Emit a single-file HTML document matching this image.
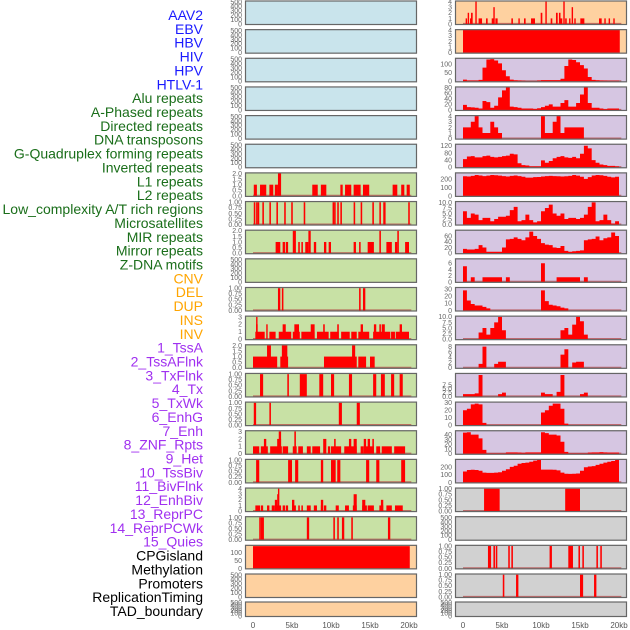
<!DOCTYPE html>
<html><head><meta charset="utf-8"><style>
html,body{margin:0;padding:0;background:#fff;width:630px;height:630px;overflow:hidden}
svg{display:block}
</style></head><body>
<svg id="chart" width="630" height="630" xmlns="http://www.w3.org/2000/svg" font-family="Liberation Sans, DejaVu Sans, sans-serif"></svg>
<script>
// ---------- data ----------
const trackLabels = ["AAV2","EBV","HBV","HIV","HPV","HTLV-1","Alu repeats","A-Phased repeats","Directed repeats","DNA transposons","G-Quadruplex forming repeats","Inverted repeats","L1 repeats","L2 repeats","Low_complexity A/T rich regions","Microsatellites","MIR repeats","Mirror repeats","Z-DNA motifs","CNV","DEL","DUP","INS","INV","1_TssA","2_TssAFlnk","3_TxFlnk","4_Tx","5_TxWk","6_EnhG","7_Enh","8_ZNF_Rpts","9_Het","10_TssBiv","11_BivFlnk","12_EnhBiv","13_ReprPC","14_ReprPCWk","15_Quies","CPGisland","Methylation","Promoters","ReplicationTiming","TAD_boundary"];
const labelGroupSizes = [6,13,5,15,5];
const kbTicks = [0,5,10,15,20];
const kbTickLabels = ["0","5kb","10kb","15kb","20kb"];

// left column segments [startKb, endKb, value]
const L6 = [[0.1,0.5,1],[0.9,1.7,1],[2.1,2.6,1],[2.8,3.2,1],[3.2,3.6,2],[7.6,8.3,1],[8.7,9.4,1],[11.2,11.5,1],[11.8,12.6,1],[12.9,13.8,1],[14.1,14.9,1],[17.9,18.5,1],[19.0,19.4,1],[19.7,20.1,1]];
const L7 = [[0.1,0.3,1],[0.4,0.6,1],[0.6,0.8,1],[1.2,1.4,1],[2.1,2.3,1],[3.0,3.2,1],[4.0,4.2,1],[4.9,5.1,1],[6.5,6.7,1],[10.2,10.4,1],[10.4,10.6,1],[10.8,11.0,1],[11.2,11.4,1],[12.9,13.1,1],[13.8,14.0,1],[15.3,15.5,1],[16.2,16.4,1],[16.7,17.0,1],[19.9,20.1,1]];
const L8 = [[2.9,3.5,1],[3.8,4.1,1],[4.2,4.5,1],[5.1,5.5,2],[5.8,6.0,1],[6.2,6.4,1],[6.7,7.1,1],[7.1,7.4,2],[7.8,8.1,1],[9.1,9.4,1],[9.7,10.0,1],[12.9,13.2,1],[13.6,13.8,1],[14.7,15.5,1],[16.2,16.4,2],[17.1,17.8,1],[18.2,18.5,1],[18.5,18.7,2],[19.5,20.0,1]];
const L10 = [[3.2,3.5,1],[3.7,3.9,1],[13.6,13.8,1],[14.1,14.4,1]];
const L11 = [[0.3,1.5,1],[2.1,2.9,1],[3.3,4.9,1],[5.1,6.0,1],[6.2,7.9,1],[8.2,9.7,1],[9.9,11.0,1],[11.3,12.4,1],[12.6,13.3,1],[13.5,14.9,1],[15.4,17.6,1],[17.7,18.2,1],[18.3,20.0,1],[0.4,0.6,2],[1.7,1.8,2],[3.8,4.2,2],[5.3,5.9,2],[7.4,7.9,2],[9.0,9.2,2],[10.8,11.0,2],[13.8,14.1,2],[15.5,15.8,2],[16.2,16.4,2],[16.5,16.9,2],[18.8,19.1,2],[0.4,0.5,3]];
const L12 = [[0.0,3.1,1],[3.5,4.5,1],[9.1,13.3,1],[13.5,14.5,1],[15.0,15.6,1],[1.8,2.3,2],[3.7,4.4,2],[12.7,13.1,2]];
const L13 = [[0.9,1.3,1],[4.4,4.6,1],[6.0,6.9,1],[8.5,9.0,1],[10.0,10.4,1],[12.3,12.7,1],[15.4,15.8,1],[16.4,16.9,1],[17.7,18.1,1],[18.8,19.2,1]];
const L14 = [[0.1,0.4,1],[2.1,2.3,1],[11.0,11.4,1],[13.3,13.7,1]];
const L15 = [[0,0.8,1],[1.0,1.9,1],[2.2,3.7,1],[3.8,4.5,1],[5.1,5.6,1],[5.8,6.4,1],[6.9,7.4,1],[7.6,8.6,1],[9.6,9.9,1],[10.0,11.3,1],[11.7,13.3,1],[13.8,14.2,1],[14.4,15.5,1],[15.8,16.3,1],[16.5,17.8,1],[18.1,19.5,1],[1.4,1.7,2],[3.1,3.6,2],[9.0,9.4,2],[10.4,10.6,2],[12.3,12.6,2],[12.9,13.3,2],[14.2,14.5,2],[14.7,15.0,2],[15.3,15.5,2],[3.3,3.6,3],[5.3,5.5,3]];
const L16 = [[0.4,0.8,1],[4.5,5.0,1],[5.4,5.8,1],[8.7,9.0,1],[10.0,10.6,1],[10.8,11.2,1],[14.5,14.9,1],[15.8,16.2,1],[19.0,19.5,1]];
const L17 = [[0.3,0.9,1],[1.0,1.3,1],[1.8,2.1,1],[2.4,2.8,1],[2.9,3.6,1],[3.8,4.1,1],[4.2,4.5,1],[5.1,5.5,1],[5.8,6.0,1],[6.2,6.4,1],[6.9,7.4,1],[7.8,8.2,1],[8.7,9.0,1],[9.1,9.4,1],[10.6,11.0,1],[11.8,12.3,1],[12.8,13.3,1],[14.0,14.6,1],[14.7,15.5,1],[16.2,16.7,1],[17.1,17.8,1],[18.2,19.2,1],[2.8,3.1,2],[5.0,5.3,2],[8.7,9.0,2],[14.0,14.4,2],[16.4,16.7,2],[3.1,3.3,3],[12.9,13.3,3],[3.2,3.35,4]];
const L18 = [[0.8,1.0,1],[1.0,1.4,1],[6.9,7.2,1],[10.3,10.5,1],[10.8,11.0,1],[11.4,11.7,1],[12.6,12.8,1],[17.3,17.6,1]];
const L19 = [[0,20.1,140]];

// right column
const R0 = [[0.34,0.47,1],[0.6,0.77,2],[0.9,1.03,1],[1.03,1.24,2],[1.58,1.71,4],[2.0,2.44,1],[2.95,3.16,1],[3.68,3.97,1],[3.89,4.06,3],[4.15,4.44,1],[6.2,6.4,1],[7.1,7.26,1],[7.82,8.03,1],[8.72,9.23,1],[9.96,10.17,2],[10.56,10.68,4],[11.24,11.45,1],[11.92,12.14,2],[12.3,12.5,2],[12.48,12.73,1],[12.86,13.03,4],[13.1,13.3,1],[13.6,13.76,1],[13.93,14.1,3],[14.27,14.44,1],[15.04,15.56,1],[17.44,17.78,1],[18.12,18.29,1],[18.67,18.85,1],[19.27,19.44,1]];
const R1 = [[0,20.1,4.1]];
// binned series, 0.5 kb bins from 0 to 20 kb
const R2 = [10,5,5,5,8,80,128,130,122,105,65,30,10,6,5,3,2,2,2,5,7,7,7,7,7,15,90,128,125,112,95,75,25,8,6,5,4,3,3,3];
const R3 = [18,10,9,8,5,32,28,8,15,45,70,80,12,10,8,5,5,5,4,6,10,15,20,12,12,25,35,12,12,25,55,80,25,8,8,5,3,5,5,5];
const R4 = [2,2,3,4,2,1,1,3,2,1,0,0,0,0,0,0,0,0,0,0,4,1,1,3,4,1,2,2,2,2,2,0,0,0,0,0,0,0,0,0];
const R5 = [45,60,62,55,55,62,65,58,55,58,62,65,75,72,22,12,10,5,5,5,38,25,35,50,58,62,55,52,58,50,75,120,105,40,25,15,12,8,8,5];
const R6 = [230,228,235,245,240,232,238,245,242,238,232,228,235,240,232,225,215,215,220,222,228,232,235,232,230,228,230,235,245,238,225,200,220,240,245,242,235,225,218,225];
const R7 = [6,3,5,4.5,2,3,3,1.5,2.5,3.5,3.5,4,6.5,8,1.5,2,4.5,2,1,1.5,6,7.5,9,5,4,5,2.5,3,3,2.5,3,4.5,8,10,1.5,2,4.5,2,0.5,1.5];
const R8 = [15,13,13,15,28,20,5,5,5,5,20,48,50,55,50,45,55,75,60,50,35,30,28,20,18,25,8,5,7,8,10,45,48,50,58,45,52,55,72,60];
const R9 = [5,0,1.5,0,0,1.5,1.5,1.5,1.5,1.5,0,1.5,0,0,0,0,0,0,0,0,6,0,0,0,1.5,1.5,1.5,1.5,1.5,1.5,0,1.5,0,0,0,0,0,0,0,0];
const R10 = [28,14,9,7,7,5,3,0,0,0,0,0,0,0,0,0,0,0,0,0,28,13,8,7,6,4,3,0,0,0,0,0,0,0,0,0,0,0,0,0];
const R11 = [0,0,0,0,3,5,2,5,7.5,10,4,0,0,0,0,0,0,0,0,0,0,0,0,0,0,4,5,2,6.5,10,8,2,0,0,0,0,0,0,0,0];
const R12 = [0,0,0,0,1.5,8,0,0,1.5,2.3,2.3,0,0,0,0,0,0,0,0,0,0,0,0,0,0,5,7,0,2,2.3,2.3,0,0,0,0,0,0,0,0,0];
const R13 = [1.5,1.5,1.5,2,14,0,0,0,0,1.5,2.5,0,0,0,0,0,0,0,0,0,2.5,1.5,1.5,0,3,14,0,0,0,0,1.5,2.5,0,0,0,0,0,0,0,0];
const R14 = [20,22,28,29,28,3,0,0,0,0,0,0,0,0,0,0,0,0,0,0,17,20,26,29,29,22,2,0,0,0,0,0,0,0,0,0,0,0,0,0];
const R15 = [44,45,40,40,32,8,1,1,1,1,1,3,3,3,2.5,2,3,3,3,3,45,43,40,40,38,25,4,1,1,1,1,1,2.5,3,3,3.5,3,2.5,2.5,2.5];
const R16 = [140,160,162,160,150,125,122,122,125,130,150,170,200,215,240,250,255,265,280,292,165,165,165,162,155,125,112,110,112,115,150,195,205,210,225,240,255,265,275,290];
const R17 = [[2.7,4.7,1],[13.1,15.0,1]];
const R19 = [[3.2,3.6,1],[3.9,4.1,1],[4.2,4.4,1],[5.8,6.0,1],[6.2,6.4,1],[11.1,11.4,1],[13.5,14.1,1],[14.8,15.0,1],[15.3,15.5,1],[17.1,17.3,1],[17.6,17.8,1]];
const R20 = [[5.1,5.3,1],[6.8,7.1,1],[15.0,15.4,1],[16.8,17.1,1]];

// tick label sets
const T500 = ["0","100","200","300","400","500"];
const T1 = ["0.00","0.25","0.50","0.75","1.00"];
const T2 = ["0.0","0.5","1.0","1.5","2.0"];
const T3 = ["0","1","2","3"];
const T4 = ["0","1","2","3","4"];

// ---------- layout / style config ----------
const C_BLUE="#c9e4ec", C_GREEN="#c8e1a5", C_ORANGE="#fed1a0", C_LAV="#d6c6e2", C_GRAY="#d1d1d1";
const leftPanels = [
 {bg:C_BLUE,ymax:520,ticks:T500},{bg:C_BLUE,ymax:520,ticks:T500},{bg:C_BLUE,ymax:520,ticks:T500},
 {bg:C_BLUE,ymax:520,ticks:T500},{bg:C_BLUE,ymax:520,ticks:T500},{bg:C_BLUE,ymax:520,ticks:T500},
 {bg:C_GREEN,ymax:2.05,ticks:T2,segs:L6},{bg:C_GREEN,ymax:1.03,ticks:T1,segs:L7},
 {bg:C_GREEN,ymax:2.05,ticks:T2,segs:L8},{bg:C_GREEN,ymax:520,ticks:T500},
 {bg:C_GREEN,ymax:1.03,ticks:T1,segs:L10},{bg:C_GREEN,ymax:3.1,ticks:T3,segs:L11},
 {bg:C_GREEN,ymax:2.05,ticks:T2,segs:L12},{bg:C_GREEN,ymax:1.03,ticks:T1,segs:L13},
 {bg:C_GREEN,ymax:1.03,ticks:T1,segs:L14},{bg:C_GREEN,ymax:3.1,ticks:T3,segs:L15},
 {bg:C_GREEN,ymax:1.03,ticks:T1,segs:L16},{bg:C_GREEN,ymax:4.1,ticks:T4,segs:L17},
 {bg:C_GREEN,ymax:1.03,ticks:T1,segs:L18},
 {bg:C_ORANGE,ymax:145,ticks:["0","50","100"],tickVals:[0,50,100],segs:L19,noBase:true},
 {bg:C_ORANGE,ymax:520,ticks:T500},{bg:C_ORANGE,ymax:520,ticks:T500}
];
const rightPanels = [
 {bg:C_ORANGE,ymax:4.1,ticks:T4,segs:R0},{bg:C_ORANGE,ymax:4.1,ticks:T4,segs:R1,noBase:true},
 {bg:C_LAV,ymax:135,ticks:["0","50","100"],tickVals:[0,50,100],bins:R2},
 {bg:C_LAV,ymax:82,ticks:["0","20","40","60","80"],tickVals:[0,20,40,60,80],bins:R3},
 {bg:C_LAV,ymax:4.1,ticks:T4,bins:R4},
 {bg:C_LAV,ymax:128,ticks:["0","40","80","120"],tickVals:[0,40,80,120],bins:R5},
 {bg:C_LAV,ymax:270,ticks:["0","100","200"],tickVals:[0,100,200],bins:R6},
 {bg:C_LAV,ymax:10.4,ticks:["0.0","2.5","5.0","7.5","10.0"],tickVals:[0,2.5,5,7.5,10],bins:R7},
 {bg:C_LAV,ymax:80,ticks:["0","20","40","60"],tickVals:[0,20,40,60],bins:R8},
 {bg:C_LAV,ymax:7.4,ticks:["0","2","4","6"],tickVals:[0,2,4,6],bins:R9},
 {bg:C_LAV,ymax:32,ticks:["0","10","20","30"],tickVals:[0,10,20,30],bins:R10},
 {bg:C_LAV,ymax:10.3,ticks:["0.0","2.5","5.0","7.5","10.0"],tickVals:[0,2.5,5,7.5,10],bins:R11},
 {bg:C_LAV,ymax:8.7,ticks:["0","2","4","6","8"],tickVals:[0,2,4,6,8],bins:R12},
 {bg:C_LAV,ymax:15,ticks:["0.0","2.5","5.0","7.5"],tickVals:[0,2.5,5,7.5],bins:R13},
 {bg:C_LAV,ymax:31,ticks:["0","10","20","30"],tickVals:[0,10,20,30],bins:R14},
 {bg:C_LAV,ymax:48,ticks:["0","10","20","30","40"],tickVals:[0,10,20,30,40],bins:R15},
 {bg:C_LAV,ymax:296,ticks:["0","100","200"],tickVals:[0,100,200],bins:R16},
 {bg:C_GRAY,ymax:1.03,ticks:T1,segs:R17},{bg:C_GRAY,ymax:520,ticks:T500},
 {bg:C_GRAY,ymax:1.03,ticks:T1,segs:R19},{bg:C_GRAY,ymax:1.03,ticks:T1,segs:R20},
 {bg:C_GRAY,ymax:520,ticks:T500}
];
const labelColors = ["#1a1aff","#1a6e1a","#ffa500","#a030f0","#000000"];

// ---------- rendering ----------
const NS="http://www.w3.org/2000/svg";
const svg=document.getElementById("chart");
function mk(tag,attrs,parent){const e=document.createElementNS(NS,tag);for(const k in attrs)e.setAttribute(k,attrs[k]);(parent||svg).appendChild(e);return e;}

// labels
let gi=0,cnt=0;
trackLabels.forEach((t,i)=>{
  while(cnt>=labelGroupSizes[gi]){gi++;cnt=0;}
  cnt++;
  const el=mk("text",{x:203,y:15+i*13.86+5,"text-anchor":"end","font-size":"14",fill:labelColors[gi]});
  el.textContent=t;
  
  
});

function rowTop(i){return i<21? i*28.65+0.5 : 601.5;}
function rowH(i){return i<21? 24.5 : 15.5;}

function drawColumn(panels,left,right,zeroX,colName){
  const xs=kb=>zeroX+kb*7.8;
  panels.forEach((p,i)=>{
    const top=rowTop(i),h=rowH(i),bottom=top+h;
    const g=mk("g",{});
    
    
    const bg=mk("rect",{x:left,y:top,width:right-left,height:h,fill:p.bg},g);
    
    
    const ys=v=>bottom-1-(v/p.ymax)*(h-1.5);
    // ticks
    const tv=p.tickVals || p.ticks.map(s=>parseFloat(s));
    p.ticks.forEach((lab,k)=>{
      const t=mk("text",{x:left-3,y:ys(tv[k])+2.4,"text-anchor":"end","font-size":"7",fill:"#666"},g);
      t.textContent=lab;
      
      
    });
    const hasData=p.segs||p.bins;
    if(hasData && !p.noBase){
      const b=mk("line",{x1:xs(0),x2:xs(20.3),y1:bottom-1.3,y2:bottom-1.3,stroke:"#b04040","stroke-width":1.6,"stroke-opacity":0.7},g);
      
      
    }
    if(p.segs){
      p.segs.forEach(s=>{
        const x0=xs(s[0]),x1=xs(s[1]);
        const r=mk("rect",{x:x0,y:ys(s[2]),width:Math.max(1.4,x1-x0),height:ys(0)-ys(s[2]),fill:"#ff0000"},g);
        
        
      });
    }
    if(p.bins){
      let d="M"+xs(0)+","+ys(0);
      p.bins.forEach((v,k)=>{d+=" L"+xs(k*0.5)+","+ys(v)+" L"+xs(k*0.5+0.5)+","+ys(v);});
      d+=" L"+xs(p.bins.length*0.5)+","+ys(0)+" Z";
      const a=mk("path",{d:d,fill:"#ff0000"},g);
      
      
    }
    const fr=mk("rect",{x:left+0.5,y:top+0.5,width:right-left-1,height:h-1,fill:"none",stroke:"#666","stroke-width":1.2},g);
    
    
  });
  kbTicks.forEach((v,k)=>{
    const t=mk("text",{x:xs(v),y:628,"text-anchor":"middle","font-size":"8",fill:"#555"});
    t.textContent=kbTickLabels[k];
    
    
  });
}
drawColumn(leftPanels,245,417,253,"left");
drawColumn(rightPanels,455,627,463,"right");
</script>
</body></html>
